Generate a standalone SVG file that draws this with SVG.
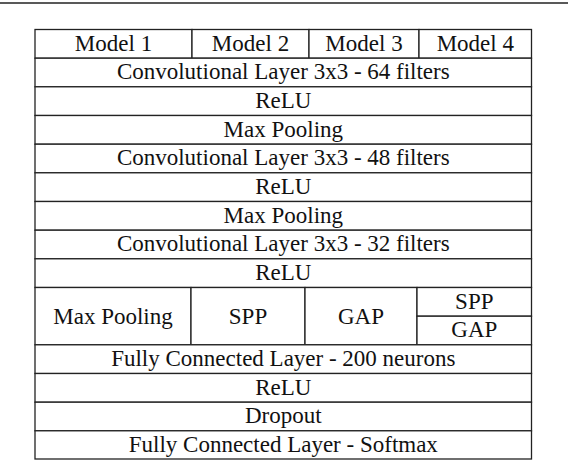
<svg xmlns="http://www.w3.org/2000/svg" width="568" height="460" viewBox="0 0 568 460">
<defs>
<style>
rect.c{fill:#fff;stroke:#222;stroke-width:1.3}
</style>
</defs>
<rect width="568" height="460" fill="#fff"/>
<line x1="0" y1="3" x2="568" y2="3" stroke="#222" stroke-width="1.5"/>
<g id="h1"><rect class="c" x="35" y="29.5" width="157" height="28.7"/><text font-family="Liberation Serif, serif" font-size="23" fill="#111" text-anchor="middle" x="113.5" y="50.5">Model 1</text></g>
<g id="h2"><rect class="c" x="192" y="29.5" width="117" height="28.7"/><text font-family="Liberation Serif, serif" font-size="23" fill="#111" text-anchor="middle" x="250.5" y="50.5">Model 2</text></g>
<g id="h3"><rect class="c" x="309" y="29.5" width="110" height="28.7"/><text font-family="Liberation Serif, serif" font-size="23" fill="#111" text-anchor="middle" x="364" y="50.5">Model 3</text></g>
<g id="h4"><rect class="c" x="419" y="29.5" width="112.5" height="28.7"/><text font-family="Liberation Serif, serif" font-size="23" fill="#111" text-anchor="middle" x="475.3" y="50.5">Model 4</text></g>
<g id="conv64"><rect class="c" x="35" y="58.2" width="496.5" height="28.6"/><text font-family="Liberation Serif, serif" font-size="23" fill="#111" text-anchor="middle" x="283.3" y="79.2">Convolutional Layer 3x3 - 64 filters</text></g>
<g id="relu1"><rect class="c" x="35" y="86.8" width="496.5" height="28.7"/><text font-family="Liberation Serif, serif" font-size="23" fill="#111" text-anchor="middle" x="283.3" y="107.8">ReLU</text></g>
<g id="pool1"><rect class="c" x="35" y="115.5" width="496.5" height="28.7"/><text font-family="Liberation Serif, serif" font-size="23" fill="#111" text-anchor="middle" x="283.3" y="136.5">Max Pooling</text></g>
<g id="conv48"><rect class="c" x="35" y="144.2" width="496.5" height="28.6"/><text font-family="Liberation Serif, serif" font-size="23" fill="#111" text-anchor="middle" x="283.3" y="165.2">Convolutional Layer 3x3 - 48 filters</text></g>
<g id="relu2"><rect class="c" x="35" y="172.8" width="496.5" height="28.7"/><text font-family="Liberation Serif, serif" font-size="23" fill="#111" text-anchor="middle" x="283.3" y="193.8">ReLU</text></g>
<g id="pool2"><rect class="c" x="35" y="201.5" width="496.5" height="28.7"/><text font-family="Liberation Serif, serif" font-size="23" fill="#111" text-anchor="middle" x="283.3" y="222.5">Max Pooling</text></g>
<g id="conv32"><rect class="c" x="35" y="230.2" width="496.5" height="28.6"/><text font-family="Liberation Serif, serif" font-size="23" fill="#111" text-anchor="middle" x="283.3" y="251.2">Convolutional Layer 3x3 - 32 filters</text></g>
<g id="relu3"><rect class="c" x="35" y="258.8" width="496.5" height="28.7"/><text font-family="Liberation Serif, serif" font-size="23" fill="#111" text-anchor="middle" x="283.3" y="279.8">ReLU</text></g>
<g id="m1pool"><rect class="c" x="35" y="287.5" width="156" height="57.3"/><text font-family="Liberation Serif, serif" font-size="23" fill="#111" text-anchor="middle" x="113" y="323.5">Max Pooling</text></g>
<g id="m2spp"><rect class="c" x="191" y="287.5" width="114" height="57.3"/><text font-family="Liberation Serif, serif" font-size="23" fill="#111" text-anchor="middle" x="248" y="323.5">SPP</text></g>
<g id="m3gap"><rect class="c" x="305" y="287.5" width="112" height="57.3"/><text font-family="Liberation Serif, serif" font-size="23" fill="#111" text-anchor="middle" x="361" y="323.5">GAP</text></g>
<g id="m4spp"><rect class="c" x="417" y="287.5" width="114.5" height="28.7"/><text font-family="Liberation Serif, serif" font-size="23" fill="#111" text-anchor="middle" x="474.3" y="308.5">SPP</text></g>
<g id="m4gap"><rect class="c" x="417" y="316.2" width="114.5" height="28.6"/><text font-family="Liberation Serif, serif" font-size="23" fill="#111" text-anchor="middle" x="474.3" y="337.2">GAP</text></g>
<g id="fc200"><rect class="c" x="35" y="344.8" width="496.5" height="28.7"/><text font-family="Liberation Serif, serif" font-size="23" fill="#111" text-anchor="middle" x="283.3" y="365.8">Fully Connected Layer - 200 neurons</text></g>
<g id="relu4"><rect class="c" x="35" y="373.5" width="496.5" height="28.7"/><text font-family="Liberation Serif, serif" font-size="23" fill="#111" text-anchor="middle" x="283.3" y="394.5">ReLU</text></g>
<g id="dropout"><rect class="c" x="35" y="402.2" width="496.5" height="28.6"/><text font-family="Liberation Serif, serif" font-size="23" fill="#111" text-anchor="middle" x="283.3" y="423.2">Dropout</text></g>
<g id="fcsoft"><rect class="c" x="35" y="430.8" width="496.5" height="28.2"/><text font-family="Liberation Serif, serif" font-size="23" fill="#111" text-anchor="middle" x="283.3" y="451.8">Fully Connected Layer - Softmax</text></g>
<g id="connectors"></g>
</svg>
